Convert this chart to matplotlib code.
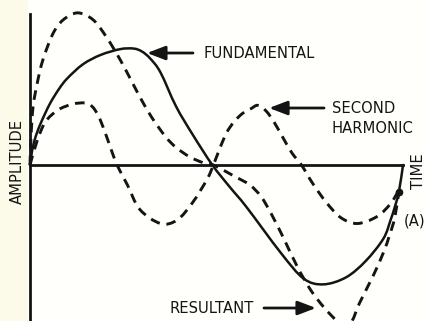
import matplotlib
matplotlib.use("Agg")
import numpy as np
import matplotlib.pyplot as plt
from matplotlib.path import Path
from matplotlib.patches import PathPatch

# time in degrees of the fundamental, amplitude relative to fundamental peak
fund_t = [0, 2, 5, 10, 19, 28, 36, 51, 68, 87, 100, 108, 116, 126, 141, 157, 176,
          193, 209, 242, 264, 283, 305, 324, 341, 348, 352, 356, 360]
fund_a = [0, 0.12, 0.23, 0.35, 0.52, 0.65, 0.74, 0.86, 0.94, 0.99, 0.995, 0.97,
          0.91, 0.79, 0.50, 0.26, 0, -0.19, -0.36, -0.75, -0.97, -1.02, -0.96,
          -0.82, -0.63, -0.47, -0.36, -0.23, 0]

harm_t = [0, 7, 15, 27, 41, 53, 60, 66, 72, 78, 84, 94, 106, 126, 142, 157, 171,
          177, 184, 190, 197, 205, 213, 220, 228, 236, 245, 253, 262, 273, 286,
          300, 316, 335, 348, 355]
harm_a = [0, 0.21, 0.37, 0.47, 0.52, 0.53, 0.50, 0.42, 0.29, 0.14, 0, -0.17,
          -0.38, -0.50, -0.47, -0.32, -0.12, 0, 0.16, 0.28, 0.37, 0.44, 0.48,
          0.51, 0.46, 0.36, 0.22, 0.10, 0, -0.16, -0.32, -0.45, -0.50, -0.44,
          -0.33, -0.23]

res_t = [0, 1, 3, 7, 12.5, 22, 32, 46, 61, 74, 87, 99, 108, 118, 131, 141, 154,
         167, 177, 196, 212, 223, 233, 245, 258, 271, 284, 296, 305, 311, 318,
         331, 341, 347, 352, 356]
res_a = [0, 0.25, 0.50, 0.70, 0.90, 1.12, 1.24, 1.30, 1.24, 1.09, 0.90, 0.70,
         0.55, 0.40, 0.24, 0.15, 0.07, 0.02, 0, -0.09, -0.17, -0.27, -0.42,
         -0.63, -0.87, -1.07, -1.22, -1.33, -1.38, -1.33, -1.18, -0.95, -0.75,
         -0.60, -0.45, -0.23]

ink = "#141414"
fs = 10.6


def smooth_path(t, a):
    # bezier path passing through every traced point (catmull-rom tangents)
    p = np.column_stack([t, a]).astype(float)
    verts = [p[0]]
    codes = [Path.MOVETO]
    for i in range(len(p) - 1):
        p0 = p[i - 1] if i > 0 else p[i]
        p3 = p[i + 2] if i + 2 < len(p) else p[i + 1]
        c1 = p[i] + (p[i + 1] - p0) / 6
        c2 = p[i + 1] - (p3 - p[i]) / 6
        verts += [c1, c2, p[i + 1]]
        codes += [Path.CURVE4] * 3
    return Path(verts, codes)


fig = plt.figure(figsize=(4.28, 3.21), dpi=100)
fig.patch.set_facecolor("#fffffb")
ax = fig.add_axes([0, 0, 1, 1])
ax.set_facecolor("none")
ax.set_xlim(-28.95, 384.1)
ax.set_ylim(-1.333, 1.410)

# creamy edge of the scanned page
ax.axvspan(-28.95, -1.5, color="#fcfae8", lw=0, zorder=0)

# axes drawn as spines through the origin
for side in ["top", "right"]:
    ax.spines[side].set_visible(False)
ax.spines["left"].set_position(("data", 0))
ax.spines["bottom"].set_position(("data", 0))
ax.spines["left"].set_bounds(-1.333, 1.29)
ax.spines["bottom"].set_bounds(0, 360)
for side in ["left", "bottom"]:
    ax.spines[side].set_linewidth(2.0)
    ax.spines[side].set_color(ink)
ax.set_xticks([])
ax.set_yticks([])

ax.add_patch(PathPatch(smooth_path(fund_t, fund_a), fill=False, edgecolor=ink,
                       lw=1.8, joinstyle="round", capstyle="round", zorder=3))
for t, a in [(harm_t, harm_a), (res_t, res_a)]:
    ax.add_patch(PathPatch(smooth_path(t, a), fill=False, edgecolor=ink, lw=2.1,
                           linestyle=(0, (3.3, 2.3)), capstyle="butt", zorder=3))
ax.plot(fund_t[-2], fund_a[-2], "o", color=ink, ms=4.5, zorder=4)

arrow = dict(arrowstyle="-|>,head_length=1.1,head_width=0.42", color=ink, lw=2.0,
             shrinkA=0, shrinkB=0)
ax.annotate("", xy=(112.9, 0.957), xytext=(157.3, 0.957), arrowprops=arrow)
ax.annotate("", xy=(230.7, 0.487), xytext=(283.8, 0.487), arrowprops=arrow)
ax.annotate("", xy=(276.0, -1.222), xytext=(225.8, -1.222), arrowprops=arrow)

ax.text(167.0, 0.957, "FUNDAMENTAL", fontsize=fs, color=ink, ha="left", va="center")
ax.text(291.0, 0.487, "SECOND", fontsize=fs, color=ink, ha="left", va="center")
ax.text(290.5, 0.316, "HARMONIC", fontsize=fs, color=ink, ha="left", va="center")
ax.text(135.0, -1.222, "RESULTANT", fontsize=fs, color=ink, ha="left", va="center")
ax.text(-12.5, 0.034, "AMPLITUDE", fontsize=fs, color=ink, rotation=90, ha="center", va="center")
ax.text(375.4, -0.051, "TIME", fontsize=fs, color=ink, rotation=90, ha="center", va="center")
ax.text(371.6, -0.479, "(A)", fontsize=fs, color=ink, ha="center", va="center")

fig.savefig("out.png", dpi=100, facecolor=fig.get_facecolor())
